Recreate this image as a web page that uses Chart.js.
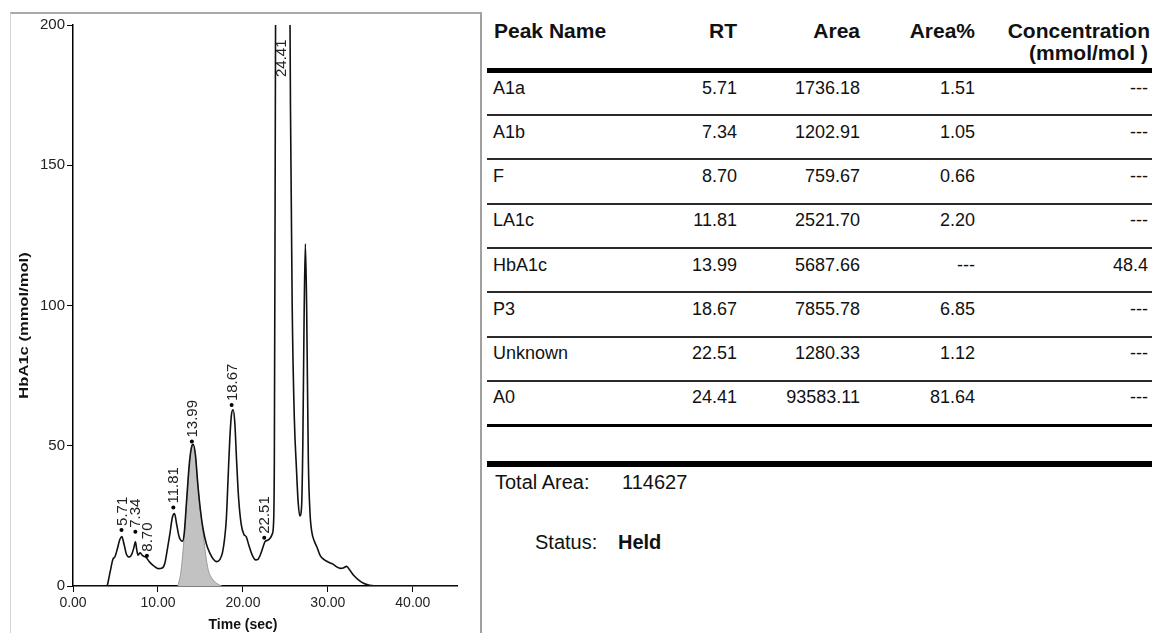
<!DOCTYPE html>
<html>
<head>
<meta charset="utf-8">
<title>HbA1c chromatogram</title>
<script src="https://cdn.jsdelivr.net/npm/chart.js@4.4.1/dist/chart.umd.min.js"></script>
<style>
  body { margin: 0; background: #fff; width: 1152px; height: 633px; overflow: hidden; position: relative;
         font-family: "Liberation Sans", Arial, sans-serif; color: #111; }
  #panel { position: absolute; left: 10px; top: 12px; width: 469px; height: 640px;
           border-top: 2px solid #a9a9a9; border-left: 1px solid #d4d4d4; border-right: 2px solid #a0a0a0; }
  #chart_box { position: absolute; left: 10px; top: 13px; width: 470px; height: 620px; }
  .cell { position: absolute; white-space: nowrap; line-height: 24px; font-size: 18px; }
  .hdr { font-weight: bold; font-size: 21px; }
  .big { font-size: 20px; }
  .rule { position: absolute; left: 487px; width: 665px; background: #1a1a1a; }
</style>
</head>
<body>
<div id="panel"></div>
<div id="chart_box"><canvas id="chrom_chart" width="470" height="620"></canvas></div>
<div id="report"></div>

<script>
// -------------------------------
// Chromatogram trace (time in sec, signal)
// -------------------------------
const timeSec = [0, 4.0, 4.1, 4.4, 4.7, 4.95, 5.2, 5.5, 5.75, 6.0, 6.3, 6.6, 6.9, 7.15, 7.35, 7.5, 7.65, 7.9,
  8.2, 8.6, 9.0, 9.5, 10.0, 10.5, 10.8, 11.1, 11.4, 11.7, 11.95, 12.2, 12.5, 12.9, 13.1, 13.35, 13.7, 13.95,
  14.15, 14.4, 14.7, 15.0, 15.3, 15.7, 16.1, 16.5, 16.9, 17.3, 17.6, 17.85, 18.05, 18.25, 18.45, 18.65, 18.85,
  19.05, 19.25, 19.5, 19.8, 20.1, 20.4, 20.7, 21.1, 21.5, 21.8, 22.1, 22.4, 22.6, 22.9, 23.2, 23.45, 23.6,
  23.7, 23.8, 23.9, 24.4, 25.0, 25.4, 25.6, 25.8, 26.05, 26.3, 26.5, 26.7, 26.9, 27.05, 27.2, 27.35, 27.5,
  27.7, 27.9, 28.1, 28.4, 28.7, 29.1, 29.6, 30.2, 30.6, 31.0, 31.5, 31.8, 32.2, 32.6, 33.0, 33.6, 34.2, 34.9,
  36.0, 45.2];
const signal = [0, 0, 1, 5.5, 9.5, 10.5, 13, 16.5, 17.6, 15, 11.2, 10.3, 11.2, 13.5, 15.8, 13, 11, 11.8,
  10.8, 10.2, 8.6, 7.2, 6.2, 6.4, 8, 13, 18.5, 24.5, 25.8, 22, 17.5, 16, 19, 29.5, 43.8, 49.5,
  50.5, 47, 36, 27, 20.5, 15, 11.8, 9.6, 8.7, 9.5, 12, 17, 24, 38, 52, 61, 62.8,
  58, 45, 31, 22, 18.5, 17.5, 14.5, 11, 9.3, 9.6, 11.5, 14.2, 15.8, 16.3, 17, 18.5, 22,
  45, 150, 260, 420, 400, 280, 170, 100, 60, 42, 30, 25, 28, 50, 95, 122, 100,
  45, 26, 19.5, 16, 14, 10.8, 9.3, 8.3, 7.8, 6.9, 6.3, 6.4, 7, 5.6, 3.9, 2.2, 1, 0.3,
  0, 0];

// HbA1c integrated peak (shaded)
const hba1cTime = [12.35, 12.7, 12.95, 13.2, 13.4, 13.7, 13.95, 14.15, 14.4, 14.7, 15.0, 15.3, 15.6, 15.9,
  16.3, 16.7, 17.1, 17.5];
const hba1cSignal = [0, 5, 12.5, 22, 31, 43.5, 49.3, 50.3, 46.8, 35.8, 26.8, 19.5, 11.5, 6, 3, 1.5, 0.6, 0];

// Peak table
const peakNames = ["A1a", "A1b", "F", "LA1c", "HbA1c", "P3", "Unknown", "A0"];
const peakRT = [5.71, 7.34, 8.70, 11.81, 13.99, 18.67, 22.51, 24.41];
const peakTop = [20, 19.3, 10.8, 28, 51.5, 64.5, 17.2, 420];
const peakArea = ["1736.18", "1202.91", "759.67", "2521.70", "5687.66", "7855.78", "1280.33", "93583.11"];
const peakAreaPct = ["1.51", "1.05", "0.66", "2.20", "---", "6.85", "1.12", "81.64"];
const peakConc = ["---", "---", "---", "---", "48.4", "---", "---", "---"];

const xTicks = [0, 10, 20, 30, 40];
const yTicks = [0, 50, 100, 150, 200];
const totalArea = "114627";
const runStatus = "Held";

const FONT = "'Liberation Sans', Arial, sans-serif";

// -------------------------------
// Peak labels + axis titles
// -------------------------------
const peakLabels = {
  id: "peakLabels",
  afterDatasetsDraw(chart) {
    const { ctx, chartArea, scales } = chart;
    ctx.save();
    ctx.fillStyle = "#222";
    ctx.font = "15px " + FONT;
    ctx.textAlign = "left";
    ctx.textBaseline = "middle";
    peakRT.forEach((rt, i) => {
      const x = scales.x.getPixelForValue(rt) + 1;
      let y = scales.y.getPixelForValue(peakTop[i]) - 4;
      if (y < chartArea.top + 52) y = chartArea.top + 52;
      ctx.save();
      ctx.translate(x, y);
      ctx.rotate(-Math.PI / 2);
      ctx.fillText(rt.toFixed(2), 0, 0);
      ctx.restore();
    });
    ctx.restore();
  },
  afterDraw(chart) {
    const { ctx, chartArea } = chart;
    ctx.save();
    ctx.fillStyle = "#111";
    ctx.textAlign = "center";
    ctx.textBaseline = "middle";

    // y title (stretched, like the instrument print-out)
    ctx.save();
    ctx.font = "bold 12px " + FONT;
    ctx.translate(chartArea.left - 48.5, (chartArea.top + chartArea.bottom) / 2 + 20);
    ctx.rotate(-Math.PI / 2);
    ctx.scale(1.38, 1);
    ctx.fillText("HbA1c (mmol/mol)", 0, 0);
    ctx.restore();

    // x title
    ctx.font = "bold 14px " + FONT;
    ctx.fillText("Time (sec)", chartArea.left + 170, chartArea.bottom + 39);
    ctx.restore();
  },
};

function renderChart() {
  const ctx = document.getElementById("chrom_chart");
  new Chart(ctx, {
    type: "line",
    data: {
      datasets: [
        {
          label: "Peaks",
          type: "scatter",
          data: peakRT.map((t, i) => ({ x: t, y: peakTop[i] })),
          pointRadius: 2,
          backgroundColor: "#000",
          borderWidth: 0,
          order: 0,
        },
        {
          label: "Signal",
          data: timeSec.map((t, i) => ({ x: t, y: signal[i] })),
          borderColor: "#111",
          borderWidth: 1.6,
          pointRadius: 0,
          cubicInterpolationMode: "monotone",
          fill: false,
          order: 1,
        },
        {
          label: "HbA1c",
          data: hba1cTime.map((t, i) => ({ x: t, y: hba1cSignal[i] })),
          borderColor: "#9a9a9a",
          borderWidth: 1,
          backgroundColor: "#c2c2c2",
          pointRadius: 0,
          cubicInterpolationMode: "monotone",
          fill: "origin",
          order: 2,
        },
      ],
    },
    options: {
      responsive: false,
      animation: false,
      devicePixelRatio: 1,
      layout: { padding: { top: 12, right: 23, left: 0, bottom: 0 } },
      plugins: { legend: { display: false }, tooltip: { enabled: false } },
      scales: {
        x: {
          type: "linear",
          min: 0,
          max: 45.2,
          afterFit: (s) => { s.height = 47; },
          afterBuildTicks: (s) => { s.ticks = xTicks.map((v) => ({ value: v })); },
          ticks: {
            callback: (v) => Number(v).toFixed(2),
            color: "#222",
            font: { size: 14, family: FONT },
            padding: 3,
            maxRotation: 0,
          },
          grid: { drawOnChartArea: false, drawTicks: true, tickLength: 6, color: "#000" },
          border: { color: "#000", width: 1.5 },
        },
        y: {
          min: 0,
          max: 200,
          afterFit: (s) => { s.width = 63; },
          afterBuildTicks: (s) => { s.ticks = yTicks.map((v) => ({ value: v })); },
          ticks: { color: "#222", font: { size: 15, family: FONT }, padding: 2 },
          grid: { drawOnChartArea: false, drawTicks: true, tickLength: 6, color: "#000" },
          border: { color: "#000", width: 1.5 },
        },
      },
    },
    plugins: [peakLabels],
  });
}

// -------------------------------
// Peak table (right side)
// -------------------------------
function addCell(parent, text, opts) {
  const d = document.createElement("div");
  d.className = "cell" + (opts.bold ? " hdr" : "") + (opts.big ? " big" : "");
  d.textContent = text;
  d.style.top = opts.top + "px";
  if (opts.left != null) d.style.left = opts.left + "px";
  if (opts.right != null) d.style.right = 1152 - opts.right + "px";
  if (opts.weight) d.style.fontWeight = opts.weight;
  parent.appendChild(d);
}

function addRule(parent, top, h, color) {
  const r = document.createElement("div");
  r.className = "rule";
  r.style.top = top + "px";
  r.style.height = h + "px";
  if (color) r.style.background = color;
  parent.appendChild(r);
}

function renderTable() {
  const rep = document.getElementById("report");
  const colRight = [737, 860, 975, 1150];

  addCell(rep, "Peak Name", { top: 19, left: 494, bold: true });
  addCell(rep, "RT", { top: 19, right: colRight[0], bold: true });
  addCell(rep, "Area", { top: 19, right: colRight[1], bold: true });
  addCell(rep, "Area%", { top: 19, right: colRight[2], bold: true });
  addCell(rep, "Concentration", { top: 19, right: colRight[3], bold: true });
  addCell(rep, "(mmol/mol )", { top: 41, right: colRight[3] - 2, bold: true });
  addRule(rep, 68, 5, "#000");

  peakNames.forEach((name, i) => {
    const top = 76 + i * 44.15;
    addCell(rep, name, { top, left: 493 });
    addCell(rep, peakRT[i].toFixed(2), { top, right: colRight[0] });
    addCell(rep, peakArea[i], { top, right: colRight[1] });
    addCell(rep, peakAreaPct[i], { top, right: colRight[2] });
    addCell(rep, peakConc[i], { top, right: colRight[3] - 2 });
    const last = i === peakNames.length - 1;
    addRule(rep, 114 + i * 44.3, last ? 3 : 2, last ? "#000" : "#2a2a2a");
  });

  addRule(rep, 461, 6, "#000");
  addCell(rep, "Total Area:", { top: 470, left: 495, big: true });
  addCell(rep, totalArea, { top: 470, left: 622, big: true });
  addCell(rep, "Status:", { top: 530, left: 535, big: true });
  addCell(rep, runStatus, { top: 530, left: 618, big: true, weight: "bold" });
}

document.addEventListener("DOMContentLoaded", () => {
  renderChart();
  renderTable();
});
</script>
</body>
</html>
